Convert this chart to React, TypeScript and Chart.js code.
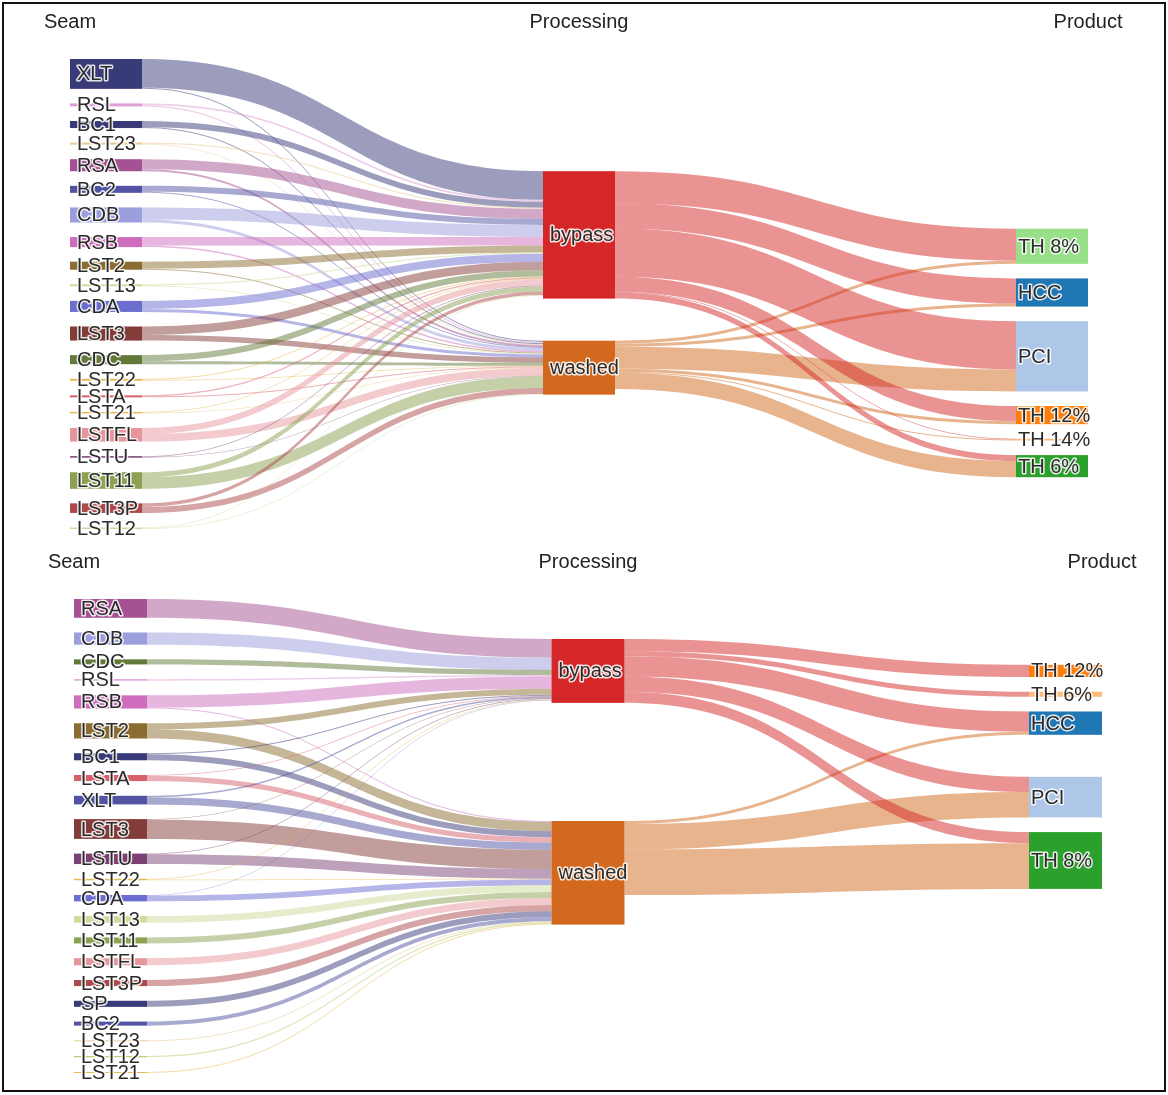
import React, { useEffect, useRef } from 'react';
import { Chart, registerables } from 'chart.js';

Chart.register(...registerables);

// ---------- shared ----------
const columnTitles = ['Seam', 'Processing', 'Product'];
const processingNodes = ['bypass', 'washed'];
const processingColors = ['#d62728', '#d2691e'];

// ---------- top panel ----------
const topSeams = ['XLT', 'RSL', 'BC1', 'LST23', 'RSA', 'BC2', 'CDB', 'RSB', 'LST2', 'LST13', 'CDA', 'LST3', 'CDC', 'LST22', 'LSTA', 'LST21', 'LSTFL', 'LSTU', 'LST11', 'LST3P', 'LST12'];
const topSeamColors = ['#393b79', '#de9ed6', '#393b79', '#e7cb94', '#a55194', '#5254a3', '#9c9ede', '#ce6dbd', '#8c6d31', '#cedb9c', '#6b6ecf', '#843c39', '#637939', '#e7ba52', '#d6616b', '#e7ba52', '#e7969c', '#7b4173', '#8ca252', '#ad494a', '#cedb9c'];
const topSeamToBypass = [28.5, 1.8, 6, 1.2, 10, 6, 12, 8.5, 7, 1.2, 8, 8.5, 6, 1.2, 1.2, 0.8, 6, 0.8, 5, 3.5, 0.8];
const topSeamToWashed = [1.2, 1.2, 1, 0.8, 2, 1, 3, 1.5, 1, 0.8, 3, 5.5, 3, 0.8, 0.8, 0.7, 7.5, 0.7, 11.5, 6, 0.7];
const topProducts = ['TH 8%', 'HCC', 'PCI', 'TH 12%', 'TH 14%', 'TH 6%'];
const topProductColors = ['#98df8a', '#1f77b4', '#aec7e8', '#ff7f0e', '#ffbb78', '#2ca02c'];
const topBypassToProduct = [32, 25, 48, 15, 0.8, 6];
const topWashedToProduct = [3, 3, 22, 3, 1, 16];

// ---------- bottom panel ----------
const bottomSeams = ['RSA', 'CDB', 'CDC', 'RSL', 'RSB', 'LST2', 'BC1', 'LSTA', 'XLT', 'LST3', 'LSTU', 'LST22', 'CDA', 'LST13', 'LST11', 'LSTFL', 'LST3P', 'SP', 'BC2', 'LST23', 'LST12', 'LST21'];
const bottomSeamColors = ['#a55194', '#9c9ede', '#637939', '#de9ed6', '#ce6dbd', '#8c6d31', '#393b79', '#d6616b', '#5254a3', '#843c39', '#7b4173', '#e7ba52', '#6b6ecf', '#cedb9c', '#8ca252', '#e7969c', '#ad494a', '#393b79', '#5254a3', '#e7cb94', '#b5cf6b', '#e7ba52'];
const bottomSeamToBypass = [18.5, 12, 5, 1.5, 12, 6, 1, 0.7, 1.5, 0.6, 0.6, 0.7, 0.6, 0, 0, 0, 0, 0, 0, 0, 0, 0];
const bottomSeamToWashed = [0, 0, 0, 0, 1, 9, 6, 5.3, 7, 18.9, 9.7, 0.8, 5.7, 6.5, 6, 7, 6, 6, 4, 1, 1.2, 1];
const bottomProducts = ['TH 12%', 'TH 6%', 'HCC', 'PCI', 'TH 8%'];
const bottomProductColors = ['#ff7f0e', '#ffbb78', '#1f77b4', '#aec7e8', '#2ca02c'];
const bottomBypassToProduct = [12, 5, 20, 15, 11];
const bottomWashedToProduct = [0, 0, 3, 25, 45];

type SNode = { name: string; color: string; col: number; value: number; y0: number; y1: number; ins: SLink[]; outs: SLink[] };
type SLink = { source: SNode; target: SNode; value: number; sy: number; ty: number };

const FONT = '20px "Liberation Sans", Arial, sans-serif';

function sumBy<T>(a: T[], f: (x: T) => number) {
  return a.reduce((s, x) => s + f(x), 0);
}

function buildSankey(
  seams: string[], seamColors: string[], toBypass: number[], toWashed: number[],
  products: string[], productColors: string[], bypassOut: number[], washedOut: number[],
  nodePad: number
) {
  const mk = (name: string, color: string, col: number): SNode => ({ name, color, col, value: 0, y0: 0, y1: 0, ins: [], outs: [] });
  const c0 = seams.map((s, i) => mk(s, seamColors[i], 0));
  const c1 = processingNodes.map((s, i) => mk(s, processingColors[i], 1));
  const c2 = products.map((s, i) => mk(s, productColors[i], 2));
  const links: SLink[] = [];
  const add = (a: SNode, b: SNode, v: number) => {
    if (v > 0) {
      const l = { source: a, target: b, value: v, sy: 0, ty: 0 };
      a.outs.push(l); b.ins.push(l); links.push(l);
    }
  };
  seams.forEach((_, i) => { add(c0[i], c1[0], toBypass[i]); add(c0[i], c1[1], toWashed[i]); });
  products.forEach((_, j) => { add(c1[0], c2[j], bypassOut[j]); add(c1[1], c2[j], washedOut[j]); });
  const cols = [c0, c1, c2];
  for (const col of cols) for (const n of col) n.value = Math.max(sumBy(n.ins, l => l.value), sumBy(n.outs, l => l.value));
  const H = Math.max(...cols.map(c => sumBy(c, n => n.value) + (c.length - 1) * nodePad));
  const center = (n: SNode) => (n.y0 + n.y1) / 2;
  const shift = (n: SNode, d: number) => { n.y0 += d; n.y1 += d; };
  const resolve = (nodes: SNode[]) => {
    let y = 0;
    for (const n of nodes) { const d = y - n.y0; if (d > 0) shift(n, d); y = n.y1 + nodePad; }
    const over = y - nodePad - H;
    if (over > 0) {
      const last = nodes[nodes.length - 1];
      shift(last, -over);
      y = last.y0;
      for (let i = nodes.length - 2; i >= 0; i--) {
        const n = nodes[i];
        const d = n.y1 + nodePad - y;
        if (d > 0) shift(n, -d);
        y = n.y0;
      }
    }
  };
  for (const col of cols) { col.forEach((n, i) => { n.y0 = i; n.y1 = i + n.value; }); resolve(col); }
  // one left-to-right relaxation: each node centred on the weighted centre of its sources
  for (let c = 1; c < cols.length; c++) {
    for (const n of cols[c]) {
      if (!n.ins.length) continue;
      const w = sumBy(n.ins, l => l.value);
      const cy = sumBy(n.ins, l => center(l.source) * l.value) / w;
      shift(n, cy - center(n));
    }
    resolve(cols[c]);
  }
  for (const col of cols) {
    for (const n of col) {
      let y = n.y0;
      for (const l of [...n.outs].sort((a, b) => a.target.y0 - b.target.y0)) { l.sy = y; y += l.value; }
      y = n.y0;
      for (const l of [...n.ins].sort((a, b) => a.source.y0 - b.source.y0)) { l.ty = y; y += l.value; }
    }
  }
  return { cols, links, H };
}

function hexA(hex: string, a: number) {
  const v = parseInt(hex.slice(1), 16);
  return `rgba(${(v >> 16) & 255},${(v >> 8) & 255},${v & 255},${a})`;
}

type PanelProps = {
  graph: ReturnType<typeof buildSankey>;
  top: number; width: number; height: number;
  padding: { left: number; right: number; top: number; bottom: number };
  nodeWidth: number;
};

function SankeyPanel({ graph, top, width, height, padding, nodeWidth }: PanelProps) {
  const ref = useRef<HTMLCanvasElement>(null);
  useEffect(() => {
    if (!ref.current) return;
    const labelOffset = [7, 7, 2];
    const drawPlugin = {
      id: 'sankeyDraw',
      afterDraw(chart: any) {
        const ctx: CanvasRenderingContext2D = chart.ctx;
        const xs = chart.scales.x;
        const ys = chart.scales.y;
        const colLeft = [
          xs.getPixelForValue(0),
          xs.getPixelForValue(0.5) - nodeWidth / 2,
          xs.getPixelForValue(1) - nodeWidth,
        ];
        ctx.save();
        for (const l of graph.links) {
          const x0 = colLeft[l.source.col] + nodeWidth;
          const x1 = colLeft[l.target.col];
          const ya = ys.getPixelForValue(l.sy);
          const yb = ys.getPixelForValue(l.sy + l.value);
          const yc = ys.getPixelForValue(l.ty);
          const yd = ys.getPixelForValue(l.ty + l.value);
          const xm = (x0 + x1) / 2;
          ctx.beginPath();
          ctx.moveTo(x0, ya);
          ctx.bezierCurveTo(xm, ya, xm, yc, x1, yc);
          ctx.lineTo(x1, yd);
          ctx.bezierCurveTo(xm, yd, xm, yb, x0, yb);
          ctx.closePath();
          ctx.fillStyle = hexA(l.source.color, 0.5);
          ctx.fill();
        }
        for (const col of graph.cols) {
          for (const n of col) {
            const y0 = ys.getPixelForValue(n.y0);
            const y1 = ys.getPixelForValue(n.y1);
            ctx.fillStyle = n.color;
            ctx.fillRect(colLeft[n.col], y0, nodeWidth, Math.max(1, y1 - y0));
          }
        }
        ctx.font = FONT;
        ctx.textBaseline = 'middle';
        ctx.textAlign = 'left';
        ctx.lineJoin = 'round';
        for (const col of graph.cols) {
          for (const n of col) {
            const x = colLeft[n.col] + labelOffset[n.col];
            const y = (ys.getPixelForValue(n.y0) + ys.getPixelForValue(n.y1)) / 2 + 1;
            ctx.strokeStyle = 'rgba(255,255,255,0.85)';
            ctx.lineWidth = 3;
            ctx.strokeText(n.name, x, y);
            ctx.fillStyle = '#2b2b2b';
            ctx.fillText(n.name, x, y);
          }
        }
        ctx.textAlign = 'center';
        ctx.fillStyle = '#222';
        const ty = chart.chartArea.top - 37;
        columnTitles.forEach((t, i) => ctx.fillText(t, xs.getPixelForValue(i / 2), ty));
        ctx.restore();
      },
    };
    const chart = new Chart(ref.current, {
      type: 'scatter',
      data: { datasets: [{ data: [] }] },
      options: {
        animation: false,
        responsive: false,
        maintainAspectRatio: false,
        layout: { padding },
        scales: {
          x: { type: 'linear', min: 0, max: 1, display: false },
          y: { type: 'linear', min: 0, max: graph.H, reverse: true, display: false },
        },
        plugins: { legend: { display: false }, tooltip: { enabled: false } },
      },
      plugins: [drawPlugin],
    } as any);
    return () => chart.destroy();
  }, [graph]);
  return (
    <canvas
      ref={ref}
      width={width}
      height={height}
      style={{ position: 'absolute', left: 0, top, width, height }}
    />
  );
}

const topGraph = buildSankey(topSeams, topSeamColors, topSeamToBypass, topSeamToWashed,
  topProducts, topProductColors, topBypassToProduct, topWashedToProduct, 14.5);
const bottomGraph = buildSankey(bottomSeams, bottomSeamColors, bottomSeamToBypass, bottomSeamToWashed,
  bottomProducts, bottomProductColors, bottomBypassToProduct, bottomWashedToProduct, 14.5);

export default function App() {
  return (
    <div style={{ position: 'absolute', left: 0, top: 0, width: 1168, height: 1095, background: '#fff', overflow: 'hidden' }}>
      <SankeyPanel graph={topGraph} top={0} width={1168} height={545}
        padding={{ left: 70, right: 80, top: 59, bottom: 16 }} nodeWidth={72} />
      <SankeyPanel graph={bottomGraph} top={545} width={1168} height={550}
        padding={{ left: 74, right: 66, top: 54, bottom: 22 }} nodeWidth={73} />
      <div style={{ position: 'absolute', left: 2, top: 2, width: 1164, height: 1090, border: '2px solid #111', boxSizing: 'border-box', pointerEvents: 'none' }} />
    </div>
  );
}
